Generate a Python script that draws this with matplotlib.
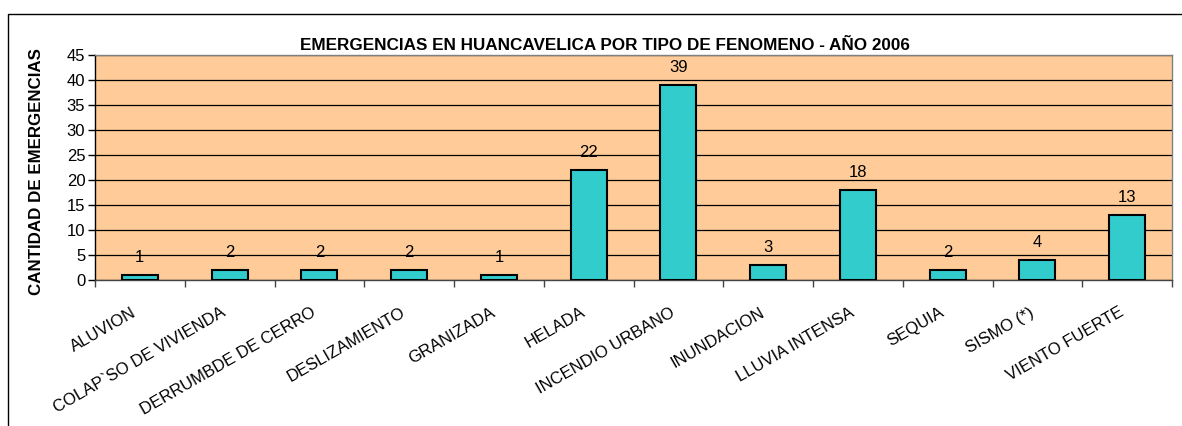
import matplotlib.pyplot as plt
import matplotlib.transforms as mtransforms
from matplotlib.patches import Rectangle
import numpy as np

plt.rcParams['font.family'] = ['Liberation Sans', 'DejaVu Sans']

categorias = ['ALUVION', 'COLAP`SO DE VIVIENDA', 'DERRUMBDE DE CERRO', 'DESLIZAMIENTO',
              'GRANIZADA', 'HELADA', 'INCENDIO URBANO', 'INUNDACION', 'LLUVIA INTENSA',
              'SEQUIA', 'SISMO (*)', 'VIENTO FUERTE']
emergencias = [1, 2, 2, 2, 1, 22, 39, 3, 18, 2, 4, 13]
y_ticks = [0, 5, 10, 15, 20, 25, 30, 35, 40, 45]

W, H = 1182, 426
fig = plt.figure(figsize=(W / 100, H / 100), dpi=100)
fig.patch.set_facecolor('white')

# marco exterior (solo lados superior e izquierdo visibles)
fig.patches.append(Rectangle((8 / W, -0.1), 1.2, (H - 14) / H + 0.1, transform=fig.transFigure,
                             fill=False, edgecolor='black', linewidth=1.0))

ax = fig.add_axes([95 / W, 1 - 280 / H, (1172 - 95) / W, (280 - 55) / H])
ax.set_facecolor('#FFCC99')

x = np.arange(len(categorias))
ax.bar(x, emergencias, width=0.4, color='#33CCCC', edgecolor='black', linewidth=1.5, zorder=3)

for xi, v in zip(x, emergencias):
    ax.annotate(str(v), (xi, v), xytext=(0, 9.5), textcoords='offset points',
                ha='center', va='baseline', fontsize=12, zorder=4)

ax.set_xlim(-0.5, len(categorias) - 0.5)
ax.set_ylim(0, 45)
ax.set_yticks(y_ticks)
ax.tick_params(axis='y', labelsize=12, length=5, width=1, direction='out', pad=2)
ax.yaxis.grid(True, color='black', linewidth=0.9, zorder=1)
ax.set_axisbelow(True)

ax.set_xticks(np.arange(-0.5, len(categorias)), minor=False)
ax.set_xticklabels([])
ax.tick_params(axis='x', length=5, width=1, direction='out', color='#444444')

trans = mtransforms.blended_transform_factory(ax.transData, ax.transAxes)
for xi, lab in zip(x, categorias):
    ax.text(xi - 0.03, -0.156, lab, transform=trans, rotation=30, rotation_mode='anchor',
            ha='right', va='baseline', fontsize=12)

for side in ['top', 'right']:
    ax.spines[side].set_color('#808080')
ax.spines['left'].set_color('black')
ax.spines['bottom'].set_color('#444444')
for s in ax.spines.values():
    s.set_linewidth(1.0)

fig.text(605 / W, 1 - 46 / H, 'EMERGENCIAS EN HUANCAVELICA POR TIPO DE FENOMENO - AÑO 2006',
         ha='center', va='center', fontsize=12.3, fontweight='bold')
fig.text(37 / W, 1 - 172 / H, 'CANTIDAD DE EMERGENCIAS', rotation=90,
         ha='center', va='center', fontsize=12.2, fontweight='bold')

fig.savefig('out.png', dpi=100)
